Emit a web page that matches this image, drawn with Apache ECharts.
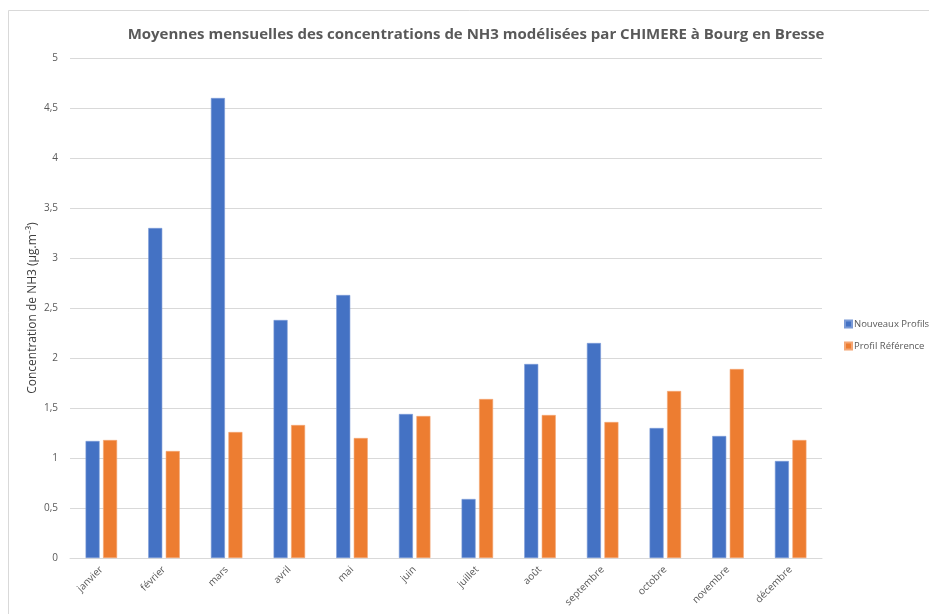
<!DOCTYPE html>
<html>
<head>
<meta charset="utf-8">
<script src="https://cdn.jsdelivr.net/npm/echarts@6/dist/echarts.min.js"></script>
<style>
  html, body { margin: 0; padding: 0; background: #fff; }
  #chart { width: 929px; height: 614px; }
</style>
</head>
<body>
<div id="chart"></div>
<script>
// Monthly mean NH3 concentrations (µg.m-3), Bourg en Bresse
const months = ['janvier', 'février', 'mars', 'avril', 'mai', 'juin', 'juillet', 'août', 'septembre', 'octobre', 'novembre', 'décembre'];
const nouveauxProfils = [1.17, 3.30, 4.60, 2.38, 2.63, 1.44, 0.59, 1.94, 2.15, 1.30, 1.22, 0.97];
const profilReference = [1.18, 1.07, 1.26, 1.33, 1.20, 1.42, 1.59, 1.43, 1.36, 1.67, 1.89, 1.18];
const seriesNames = ['Nouveaux Profils', 'Profil Référence'];

const chart = echarts.init(document.getElementById('chart'), null, { renderer: 'canvas' });
const font = 'Open Sans, Calibri, sans-serif';

chart.setOption({
  backgroundColor: '#ffffff',
  animation: false,
  title: {
    text: 'Moyennes mensuelles des concentrations de NH3 modélisées par CHIMERE à Bourg en Bresse',
    left: 471,
    textAlign: 'center',
    top: 22,
    textStyle: { fontFamily: font, fontSize: 15, fontWeight: 'bold', color: '#595959' }
  },
  graphic: [{
    type: 'rect',
    shape: { x: 8.5, y: 10.5, width: 1000, height: 700 },
    style: { fill: 'none', stroke: '#d9d9d9', lineWidth: 1 },
    silent: true
  }],
  legend: {
    orient: 'vertical',
    left: 839,
    top: 314,
    itemWidth: 7,
    itemHeight: 7,
    itemGap: 12,
    icon: 'rect',
    textStyle: { fontFamily: font, fontSize: 9.5, color: '#595959', padding: [0, 0, 0, -3] },
    data: seriesNames
  },
  grid: { left: 70, right: 107, top: 58, bottom: 56, containLabel: false },
  xAxis: {
    type: 'category',
    data: months,
    axisLine: { lineStyle: { color: '#d9d9d9', width: 1 } },
    axisTick: { show: false },
    axisLabel: {
      rotate: 45,
      interval: 0,
      margin: 10,
      fontFamily: font,
      fontSize: 10,
      color: '#595959'
    }
  },
  yAxis: {
    type: 'value',
    min: 0,
    max: 5,
    interval: 0.5,
    name: 'Concentration de NH3 (µg.m⁻³)',
    nameLocation: 'middle',
    nameGap: 31,
    nameMoveOverlap: false,
    nameTextStyle: { fontFamily: font, fontSize: 12, fontWeight: 'normal', color: '#404040' },
    axisLine: { show: false },
    axisTick: { show: false },
    axisLabel: {
      margin: 12,
      fontFamily: font,
      fontSize: 10,
      color: '#595959',
      formatter: v => String(v).replace('.', ',')
    },
    splitLine: { lineStyle: { color: '#d9d9d9', width: 1 } }
  },
  series: [
    {
      name: seriesNames[0],
      type: 'bar',
      data: nouveauxProfils,
      barWidth: 14,
      barGap: '25%',
      itemStyle: { color: '#4472C4', borderColor: '#7a9ad6', borderWidth: 0.6 }
    },
    {
      name: seriesNames[1],
      type: 'bar',
      data: profilReference,
      barWidth: 14,
      barGap: '25%',
      itemStyle: { color: '#ED7D31', borderColor: '#f4a674', borderWidth: 0.6 }
    }
  ]
});
</script>
</body>
</html>
